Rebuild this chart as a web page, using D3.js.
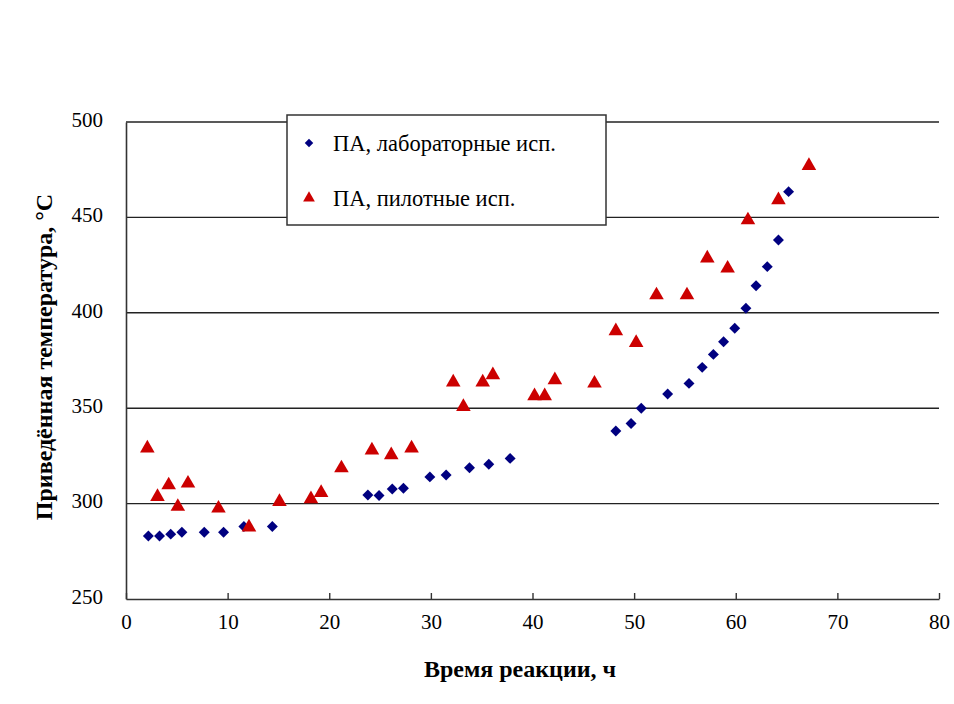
<!DOCTYPE html>
<html>
<head>
<meta charset="utf-8">
<script src="https://cdn.jsdelivr.net/npm/d3@7"></script>
<style>
  body { margin: 0; background: #fff; }
  svg { display: block; }
</style>
</head>
<body>
<svg id="chart" width="954" height="704"></svg>
<script>
// Laboratory runs: reaction time (h) and reduced temperature (°C)
const labTime = [2.2, 3.3, 4.4, 5.5, 7.7, 9.6, 11.6, 14.4, 23.8, 24.9, 26.2, 27.3, 29.9, 31.5, 33.8, 35.7, 37.8,
  48.2, 49.7, 50.7, 53.3, 55.4, 56.7, 57.8, 58.8, 59.9, 61.0, 62.0, 63.1, 64.2, 65.2];
const labTemp = [283, 283, 284, 285, 285, 285, 288, 288, 304.5, 304.2, 307.6, 308, 314, 315, 318.8, 320.6, 323.7,
  338, 342, 350, 357.4, 363, 371.4, 378.2, 384.8, 391.9, 402.4, 414.2, 424.2, 438.2, 463.5];

// Pilot runs
const pilotTime = [2.1, 3.1, 4.2, 5.1, 6.1, 9.1, 12.1, 15.1, 18.2, 19.2, 21.2, 24.2, 26.1, 28.1, 32.2, 33.2, 35.1, 36.1,
  40.2, 41.2, 42.2, 46.1, 48.2, 50.2, 52.2, 55.2, 57.2, 59.2, 61.2, 64.2, 67.2];
const pilotTemp = [329, 303.6, 309.7, 298.4, 310.6, 297.5, 287.6, 301, 302.4, 305.7, 318.6, 328, 325.5, 329, 363.6, 350.8, 363.6, 367.4,
  356.4, 356.4, 364.8, 363, 390.5, 384.3, 409.3, 409.3, 428.6, 423.3, 448.6, 459.1, 477.1];

const xTicks = [0, 10, 20, 30, 40, 50, 60, 70, 80];
const yTicks = [250, 300, 350, 400, 450, 500];
const seriesNames = ["ПА, лабораторные исп.", "ПА, пилотные исп."];
const xTitle = "Время реакции, ч";
const yTitle = "Приведённая температура, °C";

const svg = d3.select("#chart");
const plotLeft = 126, plotRight = 939, plotTop = 122, plotBottom = 599;
const serif = "'Liberation Serif'";

const x = d3.scaleLinear().domain([0, 80]).range([plotLeft, plotRight]);
const y = d3.scaleLinear().domain([250, 500]).range([plotBottom, plotTop]);

// Horizontal gridlines
svg.append("g")
  .selectAll("line")
  .data(yTicks.filter(d => d > 250))
  .join("line")
  .attr("x1", plotLeft).attr("x2", plotRight)
  .attr("y1", d => y(d)).attr("y2", d => y(d))
  .attr("stroke", "#222").attr("stroke-width", 1.4);

// Y axis (labels only, no outer ticks)
const yAxis = svg.append("g")
  .attr("transform", `translate(${plotLeft},0)`)
  .call(d3.axisLeft(y).tickValues(yTicks).tickSize(0).tickPadding(23));
yAxis.select(".domain").attr("stroke", "#333").attr("stroke-width", 1.6);
yAxis.selectAll("text")
  .style("font-family", serif).style("font-size", "21px")
  .attr("fill", "#000").attr("dy", "0.2em");

// X axis with inward ticks
const xAxis = svg.append("g")
  .attr("transform", `translate(0,${plotBottom})`)
  .call(d3.axisBottom(x).tickValues(xTicks).tickSizeInner(-6).tickSizeOuter(0).tickPadding(15));
xAxis.select(".domain").attr("stroke", "#333").attr("stroke-width", 1.6);
xAxis.selectAll(".tick line").attr("stroke", "#333").attr("stroke-width", 1.4);
xAxis.selectAll("text")
  .style("font-family", serif).style("font-size", "21px")
  .attr("fill", "#000");

// Markers
const diamond = d3.symbol().type(d3.symbolSquare).size(60);
const triangle = d3.symbol().type(d3.symbolTriangle).size(92);

svg.append("g")
  .selectAll("path")
  .data(labTime.map((t, i) => [t, labTemp[i]]))
  .join("path")
  .attr("d", diamond)
  .attr("transform", d => `translate(${x(d[0])},${y(d[1])}) rotate(45)`)
  .attr("fill", "#000080");

svg.append("g")
  .selectAll("path")
  .data(pilotTime.map((t, i) => [t, pilotTemp[i]]))
  .join("path")
  .attr("d", triangle)
  .attr("transform", d => `translate(${x(d[0])},${y(d[1])})`)
  .attr("fill", "#cc0000");

// Legend
const lg = svg.append("g");
lg.append("rect")
  .attr("x", 287).attr("y", 115).attr("width", 319).attr("height", 110)
  .attr("fill", "#fff").attr("stroke", "#333").attr("stroke-width", 1.5);
lg.append("path").attr("d", d3.symbol().type(d3.symbolSquare).size(36))
  .attr("transform", "translate(309,143) rotate(45)").attr("fill", "#000080");
lg.append("path").attr("d", d3.symbol().type(d3.symbolTriangle).size(60))
  .attr("transform", "translate(309,198)").attr("fill", "#cc0000");
lg.selectAll("text.entry")
  .data(seriesNames)
  .join("text")
  .attr("class", "entry")
  .attr("x", 333).attr("y", (d, i) => 151 + i * 55)
  .style("font-family", serif).style("font-size", "22.5px")
  .attr("fill", "#000")
  .text(d => d);

// Axis titles
svg.append("text")
  .attr("x", 520).attr("y", 677)
  .attr("text-anchor", "middle")
  .style("font-family", serif).style("font-size", "24px").style("font-weight", "bold")
  .attr("fill", "#000")
  .text(xTitle);

svg.append("text")
  .attr("transform", "translate(52,357) rotate(-90)")
  .attr("text-anchor", "middle")
  .style("font-family", serif).style("font-size", "24px").style("font-weight", "bold")
  .attr("fill", "#000")
  .text(yTitle);
</script>
</body>
</html>
